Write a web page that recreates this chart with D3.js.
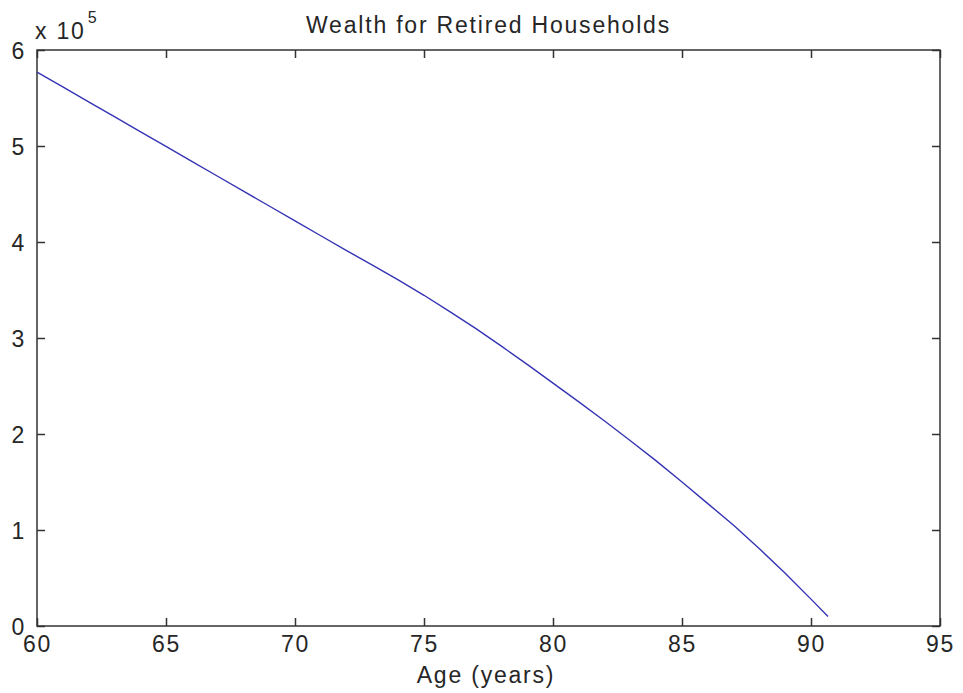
<!DOCTYPE html>
<html>
<head>
<meta charset="utf-8">
<script src="https://cdn.jsdelivr.net/npm/d3@7"></script>
<style>
  html, body { margin: 0; padding: 0; background: #fff; }
  svg { display: block; }
  text { font-family: "Liberation Sans", Arial, sans-serif; fill: #262626; }
</style>
</head>
<body>
<svg id="chart" width="963" height="693"></svg>
<script>
// Age of the household head (years)
const ages = [60, 61, 62, 63, 64, 65, 66, 67, 68, 69, 70, 71, 72, 73, 74, 75,
              76, 77, 78, 79, 80, 81, 82, 83, 84, 85, 86, 87, 88, 89, 90, 90.66];
// Remaining wealth (dollars)
const wealth = [577000, 561500, 546000, 530500, 515000, 499500, 484000, 468500,
                453000, 437500, 422000, 406500, 391000, 376000, 360500, 344500,
                327500, 310000, 291500, 272500, 253000, 233500, 213500, 193000,
                172000, 150000, 127500, 105000, 80500, 55000, 28000, 10000];
const xTicks = [60, 65, 70, 75, 80, 85, 90, 95];
const yTicks = [0, 1, 2, 3, 4, 5, 6];   // in units of 10^5
const titleText = "Wealth for Retired Households";
const xLabelText = "Age (years)";

const svg = d3.select("#chart");
const m = { left: 37, right: 940, top: 50, bottom: 626 };

const x = d3.scaleLinear().domain([60, 95]).range([m.left, m.right]);
const y = d3.scaleLinear().domain([0, 6e5]).range([m.bottom, m.top]);

const axisColor = "#333";
const tickLen = 8;
const fs = 23;
const ls = "1.8px";

// Bottom axis with inward ticks
const gx = svg.append("g").attr("transform", `translate(0,${m.bottom})`)
  .call(d3.axisBottom(x).tickValues(xTicks).tickSizeInner(-tickLen).tickSizeOuter(0).tickPadding(10));
// Top axis ticks (no labels)
const gxt = svg.append("g").attr("transform", `translate(0,${m.top})`)
  .call(d3.axisTop(x).tickValues(xTicks).tickSizeInner(-tickLen).tickSizeOuter(0).tickFormat(""));
// Left axis, values shown in units of 10^5
const gy = svg.append("g").attr("transform", `translate(${m.left},0)`)
  .call(d3.axisLeft(y).tickValues(yTicks.map(d => d * 1e5)).tickSizeInner(-tickLen).tickSizeOuter(0)
    .tickPadding(11).tickFormat(d => d / 1e5));
// Right axis ticks (no labels)
const gyr = svg.append("g").attr("transform", `translate(${m.right},0)`)
  .call(d3.axisRight(y).tickValues(yTicks.map(d => d * 1e5)).tickSizeInner(-tickLen).tickSizeOuter(0).tickFormat(""));

[gx, gxt, gy, gyr].forEach(g => {
  g.select(".domain").remove();
  g.selectAll(".tick line").attr("stroke", axisColor).attr("stroke-width", 1.5);
  g.selectAll(".tick text").attr("font-size", fs).attr("fill", "#262626")
    .attr("letter-spacing", ls)
    .attr("font-family", "'Liberation Sans', Arial, sans-serif");
});
gx.selectAll(".tick text").attr("dy", "0.71em");
gy.selectAll(".tick text").attr("dy", "0.36em");

// Box around the plot
svg.append("rect")
  .attr("x", m.left).attr("y", m.top)
  .attr("width", m.right - m.left).attr("height", m.bottom - m.top)
  .attr("fill", "none").attr("stroke", axisColor).attr("stroke-width", 1.5);

// Wealth path
const pts = ages.map((a, i) => [a, wealth[i]]);
svg.append("path")
  .datum(pts)
  .attr("fill", "none")
  .attr("stroke", "#3434b4")
  .attr("stroke-width", 1.4)
  .attr("d", d3.line().x(d => x(d[0])).y(d => y(d[1])));

// Exponent label
const expo = svg.append("text").attr("x", 35).attr("y", 39)
  .attr("font-size", fs).attr("letter-spacing", ls);
expo.append("tspan").text("x 10");
expo.append("tspan").attr("dx", 2).attr("dy", -16).attr("font-size", 16).text("5");

// Title
svg.append("text").attr("x", (m.left + m.right) / 2).attr("y", 33)
  .attr("text-anchor", "middle").attr("font-size", fs).attr("letter-spacing", ls).text(titleText);

// X axis label
svg.append("text").attr("x", 486).attr("y", 683)
  .attr("text-anchor", "middle").attr("font-size", fs).attr("letter-spacing", ls).text(xLabelText);
</script>
</body>
</html>
